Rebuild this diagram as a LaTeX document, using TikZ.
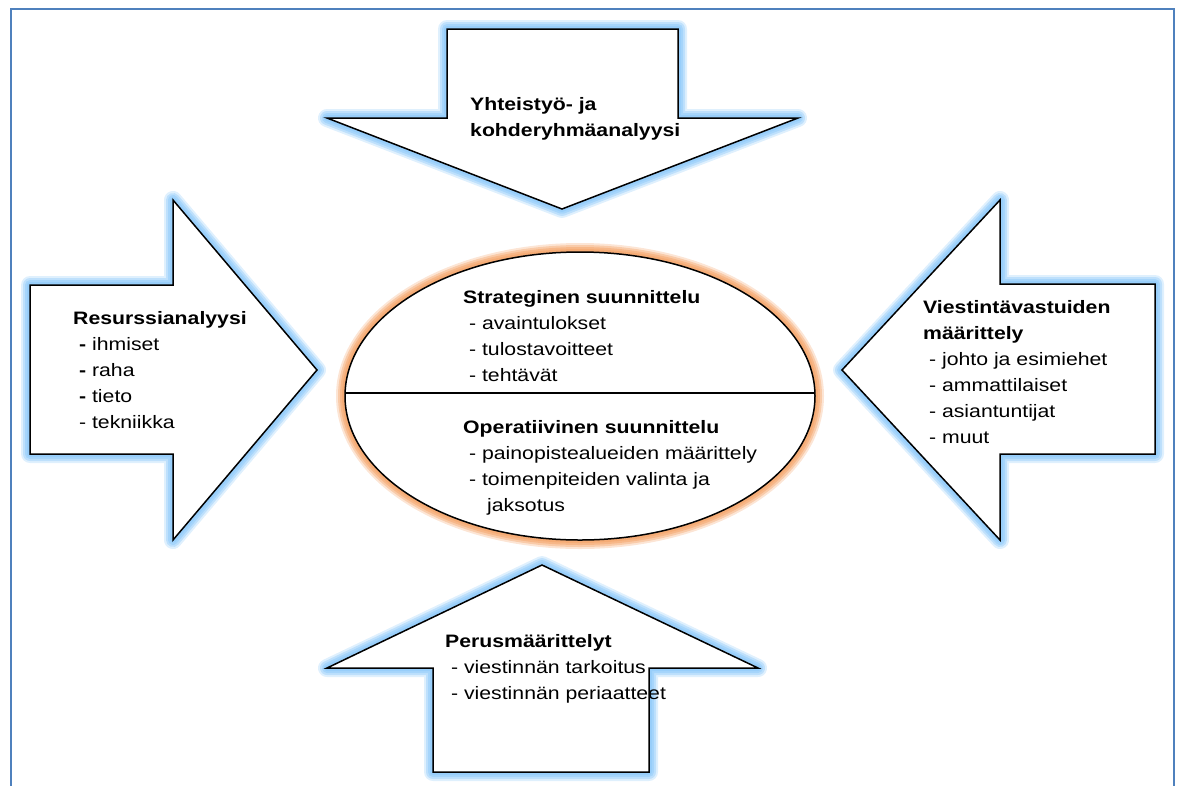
\documentclass[tikz,border=0pt]{standalone}
\usepackage{fontspec}
\setmainfont{Liberation Sans}[FakeStretch=1.18]
\usepackage{tikz}
\usetikzlibrary{positioning}
\definecolor{framecol}{RGB}{79,129,189}
\definecolor{glowblue}{RGB}{150,205,250}
\definecolor{gloworange}{RGB}{245,170,115}

% outlines of the four block arrows (pixel units)
\newcommand{\arrowtop}{(447,29) -- (678,29) -- (678,118) -- (798,118) -- (562,209) -- (327,118) -- (447,118) -- cycle}
\newcommand{\arrowleft}{(30,285) -- (173,285) -- (173,200) -- (317,370) -- (173,540) -- (173,454) -- (30,454) -- cycle}
\newcommand{\arrowright}{(1155,284) -- (1000,284) -- (1000,200) -- (842,370) -- (1000,540) -- (1000,454) -- (1155,454) -- cycle}
\newcommand{\arrowbottom}{(433,772) -- (433,668) -- (327,668) -- (542,565) -- (758,668) -- (649,668) -- (649,772) -- cycle}
\newcommand{\planoval}{(580,396) ellipse [x radius=235,y radius=144]}

\begin{document}
\begin{tikzpicture}[x=1pt,y=-1pt,
  blockarrow/.style={fill=white,draw=black,line width=1.5pt,line join=miter},
  txt/.style={anchor=north west,inner sep=0pt,align=left,font=\fontsize{18}{26}\selectfont}]
  \path[use as bounding box,clip] (0,0) rectangle (1181,785);
  \draw[framecol,line width=2pt] (11,800) -- (11,9) -- (1174,9) -- (1174,800);

  % soft glow
  \foreach \w/\o in {18/0.3,14/0.45,10/0.6,6/0.85} {
    \draw[glowblue,line width=\w pt,opacity=\o,line join=round] \arrowtop;
    \draw[glowblue,line width=\w pt,opacity=\o,line join=round] \arrowleft;
    \draw[glowblue,line width=\w pt,opacity=\o,line join=round] \arrowright;
    \draw[glowblue,line width=\w pt,opacity=\o,line join=round] \arrowbottom;
    \draw[gloworange,line width=\w pt,opacity=\o] \planoval;
  }
  \filldraw[blockarrow] \arrowtop;
  \filldraw[blockarrow] \arrowleft;
  \filldraw[blockarrow] \arrowright;
  \filldraw[blockarrow] \arrowbottom;
  \filldraw[blockarrow] \planoval;
  \begin{scope}
    \clip \planoval;
    \draw[line width=1.5pt] (330,393) -- (830,393);
  \end{scope}

  \node[txt] (yhteistyo) at (470,97) {\textbf{Yhteistyö- ja}\\\textbf{kohderyhmäanalyysi}};
  \node[txt] (resurssit) at (73,311) {\textbf{Resurssianalyysi}\\\ \textbf{-} ihmiset\\\ \textbf{-} raha\\\ \textbf{-} tieto\\\ - tekniikka};
  \node[txt] (strateginen) at (463,290) {\textbf{Strateginen suunnittelu}\\\ - avaintulokset\\\ - tulostavoitteet\\\ - tehtävät};
  \node[txt] (operatiivinen) at (463,420) {\textbf{Operatiivinen suunnittelu}\\\ - painopistealueiden määrittely\\\ - toimenpiteiden valinta ja\\\hspace*{24pt}jaksotus};
  \node[txt] (vastuut) at (923,300) {\textbf{Viestintävastuiden}\\\textbf{määrittely}\\\ - johto ja esimiehet\\\ - ammattilaiset\\\ - asiantuntijat\\\ - muut};
  \node[txt] (perus) at (445,634) {\textbf{Perusmäärittelyt}\\\ - viestinnän tarkoitus\\\ - viestinnän periaatteet};
\end{tikzpicture}
\end{document}
